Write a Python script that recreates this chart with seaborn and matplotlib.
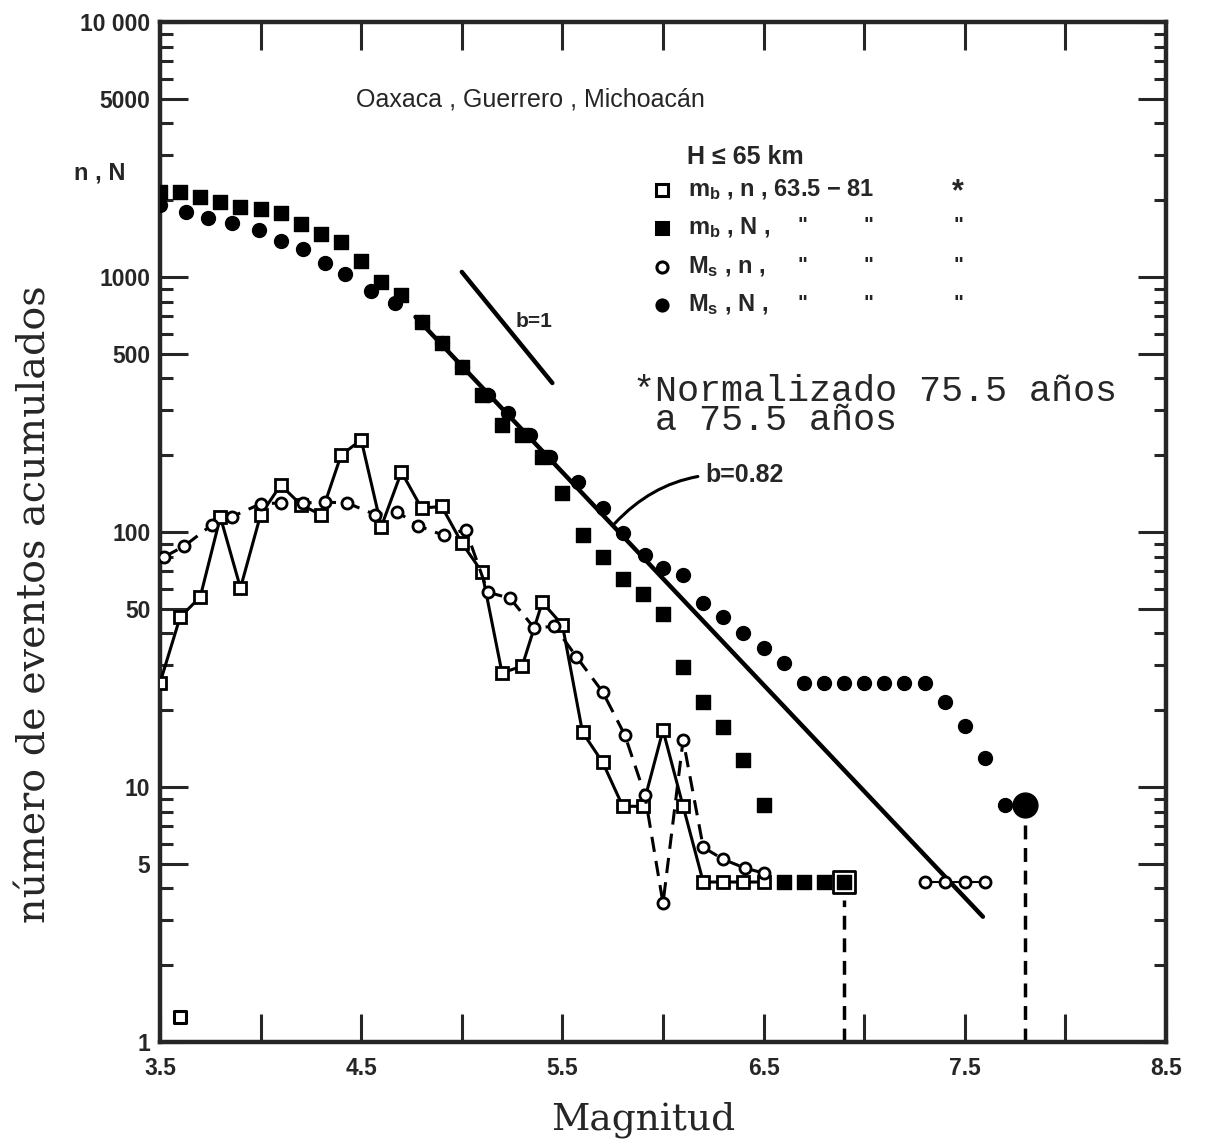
import matplotlib
matplotlib.use("Agg")
import matplotlib.pyplot as plt
import seaborn as sns
import pandas as pd
from matplotlib.ticker import FixedLocator, LogLocator, NullFormatter, MultipleLocator, FuncFormatter

# ---- datos ----
# m_b, N (cuadros llenos)
mb_N_mag = [3.5, 3.6, 3.7, 3.8, 3.9, 4.0, 4.1, 4.2, 4.3, 4.4, 4.5, 4.6, 4.7, 4.8, 4.9,
            5.0, 5.1, 5.2, 5.3, 5.4, 5.5, 5.6, 5.7, 5.8, 5.9, 6.0, 6.1, 6.2, 6.3, 6.4,
            6.5, 6.6, 6.7, 6.8, 6.9]
mb_N = [2150, 2150, 2060, 1970, 1880, 1850, 1785, 1615, 1475, 1372, 1155, 955, 850, 666, 551,
        444, 345, 263, 240, 197, 142, 97, 80, 65.5, 57, 47.6, 29.6, 21.5, 17.2, 12.8,
        8.5, 4.24, 4.24, 4.24, 4.24]

# M_s, N (circulos llenos)
ms_N_mag = [3.5, 3.63, 3.74, 3.86, 3.99, 4.10, 4.21, 4.32, 4.42, 4.55, 4.67, 4.80, 4.90,
            5.0, 5.13, 5.23, 5.34, 5.44, 5.58, 5.70, 5.80, 5.91, 6.0, 6.1, 6.2, 6.3, 6.4,
            6.5, 6.6, 6.7, 6.8, 6.9, 7.0, 7.1, 7.2, 7.3, 7.4, 7.5, 7.6, 7.7, 7.8]
ms_N = [1915, 1798, 1703, 1629, 1529, 1383, 1288, 1135, 1028, 881, 791, 666, 551,
        444, 345, 293, 240, 197, 157, 124, 99, 81, 72, 68, 52.7, 46.4, 40.2,
        35.1, 30.6, 25.6, 25.6, 25.6, 25.6, 25.6, 25.6, 25.6, 21.5, 17.3, 13.0, 8.5, 8.5]

# m_b, n (cuadros abiertos, linea continua)
mb_n_mag = [3.5, 3.6, 3.7, 3.8, 3.9, 4.0, 4.1, 4.2, 4.3, 4.4, 4.5, 4.6, 4.7, 4.8, 4.9,
            5.0, 5.1, 5.2, 5.3, 5.4, 5.5, 5.6, 5.7, 5.8, 5.9, 6.0, 6.1, 6.2, 6.3, 6.4, 6.5]
mb_n = [25.6, 46.4, 55.6, 114.6, 60.3, 116.8, 152.8, 128, 116.8, 200, 230, 105, 172, 124, 126,
        90.6, 69.7, 28, 29.8, 53, 43.2, 16.4, 12.5, 8.4, 8.4, 16.7, 8.4, 4.24, 4.24, 4.24, 4.24]

# M_s, n (circulos abiertos, linea discontinua)
ms_n_mag = [3.52, 3.62, 3.76, 3.86, 4.0, 4.1, 4.21, 4.32, 4.43, 4.57, 4.68, 4.78, 4.91,
            5.02, 5.13, 5.24, 5.36, 5.46, 5.57, 5.70, 5.81, 5.91, 6.0, 6.1, 6.2, 6.3,
            6.41, 6.5]
ms_n = [79.8, 88, 107, 115, 129, 130, 130, 131, 130, 117, 120, 106, 97,
        102, 58, 55, 42, 42.7, 32.4, 23.6, 16, 9.3, 3.5, 15.3, 5.8, 5.2,
        4.8, 4.6]
ms_n_tail_mag = [7.3, 7.4, 7.5, 7.6]
ms_n_tail = [4.24, 4.24, 4.24, 4.24]

stray_mag = [3.6]
stray_n = [1.25]

# rectas de Gutenberg-Richter (extremos leidos)
b082_mag = [4.77, 7.59]
b082_N = [697, 3.1]
b1_mag = [5.0, 5.45]
b1_N = [1047, 384]

ytick_vals = [1, 5, 10, 50, 100, 500, 1000, 5000, 10000]
ytick_txt = ["1", "5", "10", "50", "100", "500", "1000", "5000", "10 000"]

sns.set_style("ticks")
plt.rcParams["font.family"] = ["Liberation Sans", "DejaVu Sans"]
plt.rcParams["font.weight"] = "bold"
plt.rcParams["mathtext.fontset"] = "custom"
plt.rcParams["mathtext.bf"] = "Liberation Sans:bold"
plt.rcParams["mathtext.rm"] = "Liberation Sans:bold"
plt.rcParams["mathtext.it"] = "Liberation Sans:bold"

W, H = 1209, 1148
def fx(p):
    return p / W
def fy(p):
    return 1 - p / H

fig = plt.figure(figsize=(W / 100, H / 100), dpi=100)
ax = fig.add_axes([fx(160), fy(1042), fx(1166) - fx(160), fy(22) - fy(1042)])
ax.set_yscale("log")

k = "black"
sns.lineplot(x=mb_n_mag, y=mb_n, ax=ax, color=k, lw=2.2, marker="s", markersize=8,
             markerfacecolor="white", markeredgecolor=k, markeredgewidth=2,
             estimator=None, sort=False, zorder=3)
sns.lineplot(x=ms_n_mag, y=ms_n, ax=ax, color=k, lw=2.2, linestyle=(0, (5, 3)), marker="o",
             markersize=8, markerfacecolor="white", markeredgecolor=k, markeredgewidth=2,
             estimator=None, sort=False, zorder=3)
sns.lineplot(x=ms_n_tail_mag, y=ms_n_tail, ax=ax, color=k, lw=1.5, marker="o",
             markersize=8, markerfacecolor="white", markeredgecolor=k, markeredgewidth=2,
             estimator=None, sort=False, zorder=3)
sns.scatterplot(x=stray_mag, y=stray_n, ax=ax, marker="s", s=70, facecolor="white",
                edgecolor=k, linewidth=2.2, zorder=3)

sns.lineplot(x=b082_mag, y=b082_N, ax=ax, color=k, lw=3.2, estimator=None, zorder=2)
sns.lineplot(x=b1_mag, y=b1_N, ax=ax, color=k, lw=3.2, estimator=None, zorder=2)

sns.scatterplot(x=mb_N_mag, y=mb_N, ax=ax, marker="s", s=95, color=k, edgecolor=k,
                linewidth=1, zorder=4)
sns.scatterplot(x=ms_N_mag[:-1], y=ms_N[:-1], ax=ax, marker="o", s=100, color=k,
                edgecolor=k, linewidth=1, zorder=4)
sns.scatterplot(x=ms_N_mag[-1:], y=ms_N[-1:], ax=ax, marker="o", s=320, color=k,
                edgecolor=k, linewidth=1, zorder=4)
# marco del ultimo punto m_b
sns.scatterplot(x=mb_N_mag[-1:], y=mb_N[-1:], ax=ax, marker="s", s=270, facecolor="none",
                edgecolor=k, linewidth=2, zorder=4)

# lineas de caida hasta el eje
ax.vlines(mb_N_mag[-1], 1, mb_N[-1] * 0.85, colors=k, lw=2.5, linestyles=(0, (4, 2.5)))
ax.vlines(ms_N_mag[-1], 1, ms_N[-1] * 0.85, colors=k, lw=2.5, linestyles=(0, (4, 2.5)))

ax.set_xlim(3.5, 8.5)
ax.set_ylim(1, 10000)

ax.xaxis.set_major_locator(MultipleLocator(0.5))
ax.xaxis.set_major_formatter(FuncFormatter(
    lambda v, p: f"{v:.1f}" if abs(((v - 3.5) % 1.0)) < 1e-6 or abs(((v - 3.5) % 1.0) - 1) < 1e-6 else ""))
ax.yaxis.set_major_locator(FixedLocator(ytick_vals))
ax.set_yticklabels(ytick_txt)
ax.yaxis.set_minor_locator(LogLocator(base=10, subs=[2, 3, 4, 6, 7, 8, 9]))
ax.yaxis.set_minor_formatter(NullFormatter())
ax.tick_params(which="both", direction="in", top=True, right=True, width=2.2, labelsize=16.5)
ax.tick_params(which="major", length=20)
ax.tick_params(axis="x", which="major", pad=11)
ax.tick_params(axis="y", which="major", pad=7)
ax.tick_params(which="minor", length=9)
for s in ax.spines.values():
    s.set_linewidth(3.2)
ax.set_xlabel("")
ax.set_ylabel("")

# textos
fig.text(fx(100), fy(173), "n , N", fontsize=17, ha="center", va="center")
fig.text(fx(530), fy(100), "Oaxaca , Guerrero , Michoacán", fontsize=18, fontweight="normal",
         ha="center", va="center")
fig.text(fx(687), fy(157), "H ≤ 65 km", fontsize=18, ha="left", va="center")
rows_y = [190, 228, 267, 305]
row_txt = [r"$\mathbf{m_b}$ , n , 63.5 − 81", r"$\mathbf{m_b}$ , N ,",
           r"$\mathbf{M_s}$ , n ,", r"$\mathbf{M_s}$ , N ,"]
row_mk = [("s", "white"), ("s", k), ("o", "white"), ("o", k)]
for yy, t, (m, fc) in zip(rows_y, row_txt, row_mk):
    ax.plot([fx(662)], [fy(yy)], marker=m, markersize=8, markerfacecolor=fc,
            markeredgecolor=k, markeredgewidth=2.2, transform=fig.transFigure, clip_on=False)
    fig.text(fx(688), fy(yy), t, fontsize=17, ha="left", va="center")
fig.text(fx(958), fy(192), "*", fontsize=22, ha="center", va="center")
for yy in rows_y[1:]:
    for xx in [802, 868, 958]:
        fig.text(fx(xx), fy(yy - 2), '"', fontsize=15, ha="center", va="center")

fig.text(fx(633), fy(406), "*Normalizado 75.5 años\n a 75.5 años", fontsize=26.5,
         family=["Liberation Mono", "DejaVu Sans Mono"], fontweight="normal",
         ha="left", va="center", linespacing=0.78)

ax.text(5.36, 667, "b=1", fontsize=15, ha="center", va="center")
ax.annotate("b=0.82", xy=(5.76, 108), xytext=(6.21, 167), fontsize=18, ha="left", va="center",
            arrowprops=dict(arrowstyle="-", lw=2.2, color=k,
                            connectionstyle="arc3,rad=0.25", shrinkA=3, shrinkB=0))

fig.text(fx(643), fy(1120), "Magnitud", fontsize=27, fontweight="normal",
         family=["DejaVu Serif"], ha="center", va="center")
fig.text(fx(35), fy(604), "número de eventos acumulados", fontsize=28.5, fontweight="normal",
         family=["DejaVu Serif"], rotation=90, ha="center", va="center")

fig.savefig("out.png", dpi=100, facecolor="white")
